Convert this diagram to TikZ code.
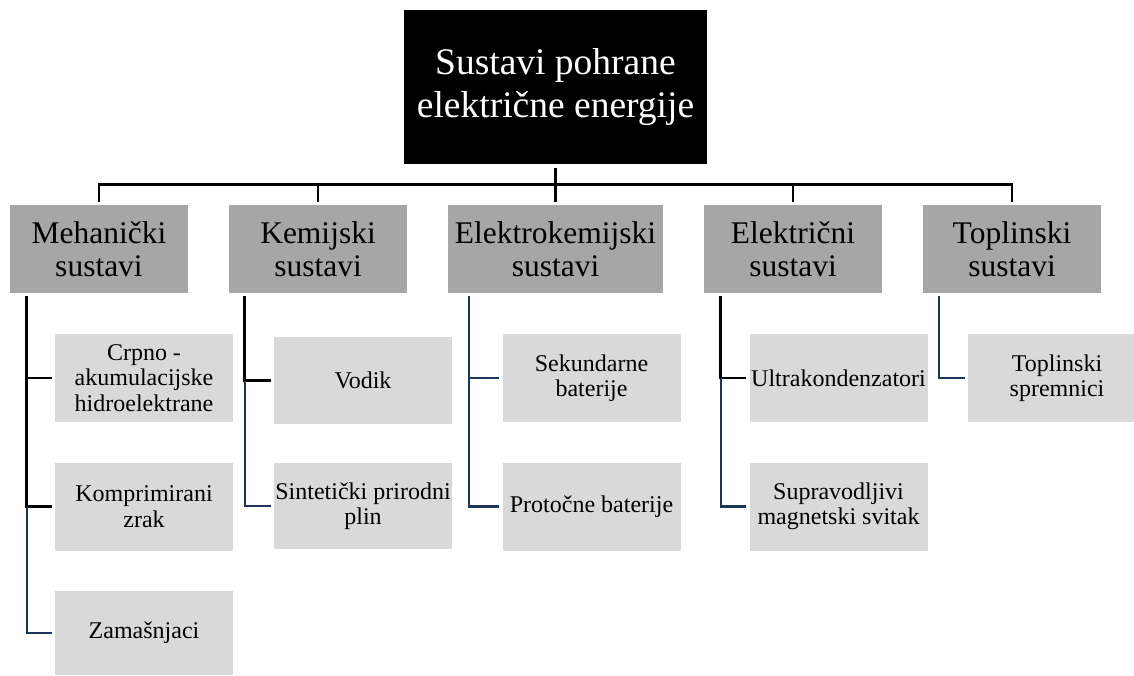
\documentclass[tikz,border=0pt]{standalone}
\usepackage{fontspec}
\setmainfont{Liberation Serif}
\usetikzlibrary{calc}
\definecolor{catgray}{HTML}{A6A6A6}
\definecolor{subgray}{HTML}{D9D9D9}
\definecolor{navy}{RGB}{28,52,88}
\begin{document}
\begin{tikzpicture}[x=1pt,y=-1pt,
  topbox/.style={fill=black,text=white,inner sep=0pt,minimum width=303pt,minimum height=154pt,align=center,font=\fontsize{37.5}{43}\selectfont},
  catbox/.style={fill=catgray,inner sep=0pt,minimum width=178pt,minimum height=88pt,align=center,font=\fontsize{31.5}{33}\selectfont},
  subbox/.style={fill=subgray,inner sep=0pt,minimum width=178pt,minimum height=88pt,align=center,font=\fontsize{24}{25.5}\selectfont},
  blk/.style={draw=black,line width=2.8pt},
  nav/.style={draw=navy,line width=2.6pt},
  tobox/.style={shorten >=3pt}]
\useasboundingbox (0,0) rectangle (1134,675);
\clip (0,0) rectangle (1134,675);
\fill[white] (0,0) rectangle (1134,675);

\node[topbox] (top) at (555.5,87) {Sustavi pohrane\\električne energije};

\node[catbox] (meh) at (99,249) {Mehanički\\sustavi};
\node[catbox] (kem) at (318,249) {Kemijski\\sustavi};
\node[catbox,minimum width=215pt] (ekem) at (555.5,249) {Elektrokemijski\\sustavi};
\node[catbox] (ele) at (793,249) {Električni\\sustavi};
\node[catbox] (topl) at (1012,249) {Toplinski\\sustavi};

\node[subbox] (m1) at (144,378) {Crpno -\\akumulacijske\\hidroelektrane};
\node[subbox] (m2) at (144,506.5) {Komprimirani\\zrak};
\node[subbox,minimum height=84pt] (m3) at (144,633) {Zamašnjaci};

\node[subbox,minimum height=87pt] (k1) at (363,380.5) {Vodik};
\node[subbox,minimum height=86pt] (k2) at (363,506) {Sintetički prirodni\\plin};

\node[subbox] (e1) at (591.5,378) {Sekundarne\\baterije};
\node[subbox] (e2) at (591.5,506.5) {Protočne baterije};

\node[subbox] (l1) at (838.5,378) {Ultrakondenzatori};
\node[subbox] (l2) at (838.5,506.5) {Supravodljivi\\magnetski svitak};

\node[subbox] (t1) at (1057,378) {Toplinski\\spremnici};

% top tree
\draw[blk] ($(top.south)+(0,4)$) -- ($(top.south)+(0,21)$);
\draw[blk] ($(meh.north)+(0,-3)$) |- ($(topl.north)+(0,-20)$) -- ($(topl.north)+(0,-3)$);
\draw[blk] ($(kem.north)+(0,-3)$) -- ($(kem.north)+(0,-20)$);
\draw[blk] ($(ekem.north)+(0,-3)$) -- ($(ekem.north)+(0,-20)$);
\draw[blk] ($(ele.north)+(0,-3)$) -- ($(ele.north)+(0,-20)$);

% Mehanicki
\coordinate (mt) at ($(meh.south west)+(17,3)$);
\draw[blk,tobox] (mt) |- (m1.west);
\draw[blk,tobox] (mt) |- (m2.west);
\draw[nav,tobox] (mt |- m2.west) |- (m3.west);

% Kemijski
\coordinate (kt) at ($(kem.south west)+(16,3)$);
\draw[blk,tobox] (kt) |- (k1.west);
\draw[nav,tobox] (kt |- k1.west) |- (k2.west);

% Elektrokemijski
\coordinate (et) at ($(ekem.south west)+(21,3)$);
\draw[nav,tobox] (et) |- (e1.west);
\draw[nav,tobox] (et) |- (e2.west);

% Elektricni
\coordinate (lt) at ($(ele.south west)+(17,3)$);
\draw[blk,tobox] (lt) |- (l1.west);
\draw[nav,tobox] (lt |- l1.west) |- (l2.west);

% Toplinski
\coordinate (tt) at ($(topl.south west)+(16,3)$);
\draw[nav,tobox] (tt) |- (t1.west);
\end{tikzpicture}
\end{document}
